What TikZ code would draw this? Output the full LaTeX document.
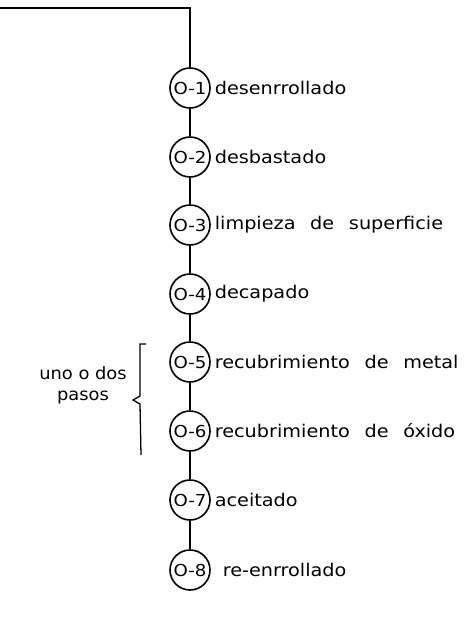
\documentclass[tikz,border=0pt]{standalone}
\usepackage{fontspec}
\setmainfont{DejaVu Sans}
\newfontfamily\letfont[FakeStretch=1.1,WordSpace=2.4]{DejaVu Sans}
\newfontfamily\sidefont[FakeStretch=1.05]{DejaVu Sans}
\begin{document}
\begin{tikzpicture}[x=1pt,y=-1pt,
  line width=1.6pt,
  op/.style={circle, draw, minimum size=40pt, inner sep=0pt, font=\letfont\fontsize{16.5}{16.5}\selectfont},
  lab/.style={anchor=west, inner sep=0pt, font=\letfont\fontsize{17.5}{17.5}\selectfont},
  side/.style={inner sep=0pt, align=center, font=\sidefont\fontsize{17}{21}\selectfont}]
\useasboundingbox (0,0) rectangle (470,643);
\coordinate (start) at (0,8);
\coordinate (corner) at (190,8);
\node[op] (o1) at (190,88) {O-1};
\node[op] (o2) at (190,157) {O-2};
\node[op] (o3) at (190,225) {O-3};
\node[op] (o4) at (190,294) {O-4};
\node[op] (o5) at (190,362) {O-5};
\node[op] (o6) at (190,431) {O-6};
\node[op] (o7) at (190,500) {O-7};
\node[op] (o8) at (190,570) {O-8};
\node[lab] (l1) at (214,88) {desenrrollado};
\node[lab] (l2) at (214,157) {desbastado};
\node[lab] (l3) at (214,225) {limpieza de superficie};
\node[lab] (l4) at (214,294) {decapado};
\node[lab] (l5) at (214,362) {recubrimiento de metal};
\node[lab] (l6) at (214,431) {recubrimiento de óxido};
\node[lab] (l7) at (214,500) {aceitado};
\node[lab] (l8) at (222,570) {re-enrrollado};
\draw (start) -- (corner) -- (o1);
\draw (o1) -- (o2) -- (o3) -- (o4) -- (o5) -- (o6) -- (o7) -- (o8);
\node[side] (pasos) at (83,385) {uno o dos\\pasos};
\coordinate (bt) at (146,344);
\coordinate (bb) at (141,455);
\coordinate (tick) at (133,400);
\draw[line width=1.3pt] (bt) -- (140,344) -- (140,396) -- (tick) -- (140,404) -- (bb);
\end{tikzpicture}
\end{document}
